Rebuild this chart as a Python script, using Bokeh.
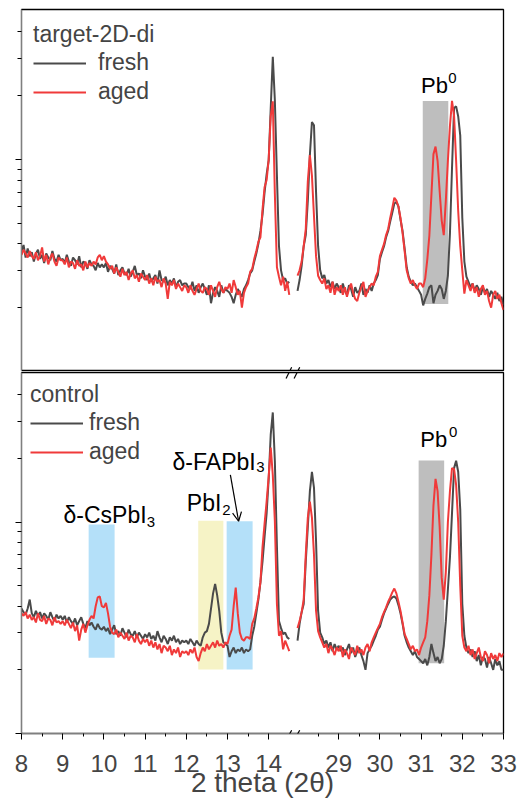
import numpy as np
from bokeh.plotting import figure
from bokeh.layouts import column
from bokeh.models import (Range1d, FixedTicker, CustomJSTickFormatter, Legend, LegendItem,
                          Label, Arrow, OpenHead)
from bokeh.embed import file_html
from bokeh.resources import INLINE

# ---------------- data ----------------
# 2theta sampling of the two measured windows (left: 8-14.5, right: 28-33)
THETA_LO = np.round(np.linspace(8.0, 14.5, 131), 2)
THETA_HI = np.round(np.linspace(28.0, 33.0, 101), 2)

TOP_FRESH_LO = [3700, 3950, 3450, 3800, 3500, 3650, 3300, 3600, 3750, 3400, 3550, 3250, 3600, 3450, 3350, 3700, 3400, 3300, 3550, 3350,
                3400, 3250, 3550, 3300, 3150, 3450, 3350, 3200, 3500, 3100, 3300, 3250, 3050, 3350, 3200, 3150, 3000, 3250, 3100, 3200,
                3100, 3250, 2950, 3150, 3050, 2900, 3200, 2850, 3000, 3100, 2900, 2850, 3050, 2800, 2950, 3150, 2850, 2900, 2750, 3000,
                2800, 2700, 2900, 2650, 2750, 2850, 2600, 3000, 2700, 2650, 2800, 2550, 2700, 2600, 2750, 2500, 2650, 2700, 2550, 2600,
                2600, 2500, 2450, 2650, 2400, 2550, 2350, 2500, 2600, 2450, 2300, 2550, 2100, 2350, 2500, 2400, 2250, 2550, 2350, 2450,
                2400, 2350, 2250, 2100, 2300, 2450, 2350, 2250, 2450, 2550,
                2700, 2900, 3000, 3300, 3600, 4000, 4600, 5500, 7000, 8500,
                9900, 17500, 30500, 19000, 8400, 3900, 3000, 2700, 2750, 2600, 2650]
TOP_AGED_LO = [3550, 3750, 3600, 3450, 3700, 3500, 3400, 3650, 3350, 3500, 3850, 3300, 3550, 3200, 3450, 3600, 3300, 3150, 3450, 3350,
               3350, 3200, 3450, 3100, 3300, 3250, 3050, 3350, 3150, 3200, 3000, 3300, 3100, 3250, 3150, 3300, 3200, 3450, 3550, 3350,
               3500, 3300, 3200, 3050, 3150, 2900, 3100, 2950, 2800, 3050, 2850, 2950, 2700, 2900, 3000, 2750, 2850, 2650, 2900, 2800,
               2700, 2850, 2600, 2750, 2550, 2800, 2650, 2700, 2500, 2750, 2600, 2200, 2650, 2550, 2700, 2450, 2600, 2500, 2400, 2550,
               2500, 2350, 2550, 2400, 2300, 2450, 2600, 2400, 2350, 2500, 2450, 2300, 2550, 2400, 2250, 2500, 2650, 2450, 2350, 2500,
               2450, 2600, 2350, 2700, 2500, 2300, 2400, 2000, 2350, 2500,
               2600, 2950, 3050, 3400, 3700, 4100, 4300, 5800, 7400, 8000,
               10000, 16000, 18800, 6900, 3100, 2800, 2550, 2800, 2400, 2650, 2300]
TOP_FRESH_HI = [2400, 2700, 3150, 3900, 4400, 6400, 10500, 15000, 14500, 7000, 3900,
                3000, 2750, 2850, 2600, 2700, 2500, 2650, 2450, 2600,
                2500, 2350, 2600, 2400, 2300, 2550, 2450, 2250, 2500, 2350, 2400, 2600, 2300, 2450, 2350, 2550, 2400, 2600, 2700, 2850,
                3400, 3650, 3900, 4300, 4600, 5100, 5600, 6200, 6300, 6000, 5200, 4600, 3800, 3100, 2800, 2650, 2550, 2600, 2500, 2400,
                2300, 2050, 2200, 2330, 2500, 2550, 2100, 2300, 2400, 2550, 2450, 2200, 2400, 2830, 4480, 9100, 17500, 17800, 16000, 13000,
                5300, 3300, 2800, 2650, 2500, 2600, 2400, 2550, 2450, 2300, 2500, 2350, 2450, 2250, 2400, 2300, 2200, 2350, 2150, 2250,
                2050]
TOP_AGED_HI = [2830, 3000, 3300, 3900, 4700, 7900, 10500, 8400, 5400, 3500, 2830,
               2700, 2600, 2750, 2450, 2550, 2350, 2650, 2300, 2500,
               2400, 2550, 2300, 2500, 2250, 2450, 2600, 2350, 2200, 2150, 2350, 2500, 2650, 2250, 2400, 2500, 2600, 2550, 2800, 2950,
               3500, 3750, 4000, 4400, 4700, 5300, 5900, 6600, 6400, 6000, 5300, 4500, 3700, 3000, 2750, 2600, 2700, 2550, 2450, 2600,
               2600, 2500, 2750, 3370, 4370, 6800, 10600, 11500, 9860, 7100, 5150, 4400, 6400, 9860, 14400, 18900, 16100, 9860, 5730, 3900,
               3000, 2330, 2700, 2550, 2400, 2600, 2350, 2500, 2250, 2450, 2550, 2300, 2400, 2150, 2000, 2300, 2400, 2200, 2300, 2100,
               1950]

BOT_FRESH_LO = [3900, 3750, 3650, 3900, 4300, 3700, 3550, 3800, 3600, 3750, 3500, 3700, 3600, 3450, 3750, 3550, 3400, 3650, 3500, 3600,
                3450, 3600, 3350, 3550, 3400, 3300, 3500, 3250, 3400, 3550, 3300, 3150, 3400, 3250, 3350, 3200, 3100, 3300, 3150, 3100,
                3200, 3050, 3150, 2950, 3100, 3250, 2950, 3050, 2900, 3150, 3000, 2850, 3100, 2950, 2900, 3050, 2850, 3000, 2900, 2800,
                2950, 2850, 3000, 2800, 2900, 2750, 3050, 2850, 2700, 2900, 2800, 2650, 2850, 2750, 2900, 2700, 2800, 2650, 2750, 2700,
                2750, 2650, 2800, 2700, 2600, 2750, 2650, 2600, 2850, 3000, 3050, 3300, 3900, 4600, 5100, 4500, 3800, 3000, 2700, 2650,
                2600, 2300, 2450, 2550, 2400, 2500, 2450, 2550, 2400, 2500,
                2450, 2500, 2900, 3200, 3700, 4300, 5200, 6500, 8500, 11000,
                16000, 26000, 33000, 19400, 7700, 3400, 3150, 2950, 3000, 2850, 2800]
BOT_AGED_LO = [3700, 3600, 3750, 3500, 3650, 3450, 3550, 3350, 3700, 3450, 3400, 3600, 3300, 3500, 3450, 3250, 3550, 3350, 3400, 3300,
               3400, 3250, 3450, 3300, 3150, 3350, 3050, 3250, 2750, 3100, 3300, 3000, 3250, 3450, 3600, 3500, 4000, 4400, 4450, 4000,
               3950, 4150, 3700, 3200, 3000, 2950, 3100, 2850, 3000, 2900, 2800, 3000, 2750, 2900, 2850, 2700, 2950, 2750, 2650, 2800,
               2700, 2800, 2600, 2750, 2550, 2700, 2500, 2650, 2400, 2600, 2550, 2450, 2600, 2350, 2500, 2400, 2550, 2300, 2450, 2400,
               2450, 2350, 2500, 2400, 2550, 2300, 2200, 2400, 2550, 2450, 2650, 2500, 2600, 2700, 2550, 2750, 2600, 2650, 2550, 2700,
               2650, 2900, 3100, 4000, 4900, 3700, 3000, 2800, 2750, 2850,
               2850, 2800, 3300, 3500, 3900, 4400, 5200, 7600, 9800, 12500,
               16400, 22500, 16700, 10100, 4100, 2900, 3050, 2500, 2750, 2600, 2450]
BOT_FRESH_HI = [2750, 3300, 3750, 4100, 6500, 9500, 14000, 17300, 14500, 8100, 3800,
                3000, 2850, 2650, 2750, 2550, 2700, 2450, 2650, 2500,
                2600, 2450, 2550, 2350, 2500, 2650, 2400, 2550, 2300, 2450, 2550, 2350, 2200, 2000, 2400, 2500, 2600, 2750, 2900, 3100,
                3200, 3450, 3700, 3900, 4100, 4300, 4400, 4450, 4350, 4050, 3700, 3300, 2900, 2700, 2550, 2450, 2350, 2450, 2300, 2250,
                2200, 2150, 2250, 2100, 2300, 2650, 2400, 2200, 2300, 2150, 2250, 2600, 3400, 4800, 6800, 11000, 18000, 19500, 17300, 11500,
                4100, 2900, 2550, 2400, 2500, 2300, 2450, 2200, 2350, 2100, 2300, 2250, 2050, 2300, 2150, 2000, 2250, 2100, 2200, 2000,
                2000]
BOT_AGED_HI = [3150, 3400, 3750, 4300, 7000, 10500, 12500, 10500, 7000, 3800, 3050,
               2850, 2700, 2550, 2650, 2400, 2600, 2500, 2350, 2550,
               2450, 2600, 2300, 2500, 2400, 2250, 2550, 2450, 2350, 2600, 2400, 2500, 2350, 2550, 2650, 2450, 2700, 2850, 3000, 3150,
               3300, 3550, 3750, 3950, 4200, 4400, 4650, 4850, 4600, 4200, 3800, 3350, 2950, 2800, 2650, 2500, 2600, 2450, 2500, 2350,
               2550, 2700, 2850, 3400, 4500, 7000, 12000, 16000, 14000, 9500, 5460, 4300, 5800, 10000, 14000, 18000, 17800, 15000, 10000, 5000,
               2900, 2550, 2450, 2600, 2350, 2500, 2250, 2400, 2550, 2300, 2200, 2450, 2350, 2150, 2400, 2250, 2350, 2200, 2400, 2300,
               2390]

SERIES_NAMES = ["fresh", "aged"]
PANEL_TITLES = ["target-2D-di", "control"]

X_TICKS_LO = [8, 9, 10, 11, 12, 13, 14]
X_TICKS_HI = [29, 30, 31, 32, 33]
X_MINOR_LO = [8.5, 9.5, 10.5, 11.5, 12.5, 13.5]
X_MINOR_HI = [28.5, 29.5, 30.5, 31.5, 32.5]
Y_MAJOR = [1000, 10000]
Y_MINOR = [2000, 3000, 4000, 5000, 6000, 7000, 8000, 9000, 20000, 30000, 40000]

# shaded phase regions: (2theta start, 2theta end, intensity bottom, intensity top)
PB0_TOP = (31.04, 31.66, 2084, 18900)
PB0_BOT = (30.94, 31.56, 2150, 19540)
CSPBI3_BOX = (9.63, 10.26, 2280, 9730)
PBI2_BOX = (12.29, 12.90, 2007, 10160)
FAPBI3_BOX = (12.98, 13.61, 2007, 10090)

# ---------------- style ----------------
FONT = "Liberation Sans"
C_FRESH = "#4a4a4a"
C_AGED = "#f03a3a"
C_GRAY = "#bebebe"
C_YELLOW = "#f6f3c6"
C_BLUE = "#b4e0f9"
Y_RANGE = (1000, 51000)
X_RANGE = (8.0, 19.7)
SHIFT = 13.3            # right window is drawn shifted so that 28 sits right after the break
BREAK_U = [14.49, 14.685]
DECADE_PX = 212.0
LW = 2.0


def make_panel(frame_h, with_xaxis, top_border, bottom_border):
    p = figure(frame_width=482, frame_height=frame_h,
               x_range=Range1d(*X_RANGE), y_range=Range1d(*Y_RANGE),
               y_axis_type="log", x_axis_location="below" if with_xaxis else None,
               output_backend="svg", toolbar_location=None,
               min_border_left=21, min_border_right=17,
               min_border_top=top_border, min_border_bottom=bottom_border,
               background_fill_color="white", border_fill_color="white")
    p.extra_x_ranges = {"hi": Range1d(X_RANGE[0] + SHIFT, X_RANGE[1] + SHIFT)}
    p.xgrid.visible = False
    p.ygrid.visible = False
    p.outline_line_color = "black"
    p.outline_line_width = 1.3
    yax = p.yaxis[0]
    yax.ticker = FixedTicker(ticks=Y_MAJOR, minor_ticks=Y_MINOR)
    yax.formatter = CustomJSTickFormatter(code="return ''")
    yax.major_tick_out = 6
    yax.major_tick_in = 0
    yax.minor_tick_out = 4
    yax.minor_tick_in = 0
    yax.major_label_standoff = 0
    yax.axis_line_color = "#7f7f7f"
    yax.major_tick_line_color = "black"
    yax.minor_tick_line_color = "black"
    return p


def add_curves(p, fresh_lo, aged_lo, fresh_hi, aged_hi):
    rf = p.line(THETA_LO, fresh_lo, line_color=C_FRESH, line_width=LW)
    p.line(THETA_HI, fresh_hi, line_color=C_FRESH, line_width=LW, x_range_name="hi")
    ra = p.line(THETA_LO, aged_lo, line_color=C_AGED, line_width=LW)
    p.line(THETA_HI, aged_hi, line_color=C_AGED, line_width=LW, x_range_name="hi")
    return rf, ra


def add_box(p, box, color, rng="default"):
    x0, x1, y0, y1 = box
    p.quad(left=[x0], right=[x1], bottom=[y0], top=[y1], fill_color=color,
           line_color=None, x_range_name=rng)


def add_legend(p, title, rf, ra, margin, standoff):
    leg = Legend(items=[LegendItem(label=SERIES_NAMES[0], renderers=[rf]),
                        LegendItem(label=SERIES_NAMES[1], renderers=[ra])],
                 title=title, location="top_left", margin=margin, padding=0,
                 border_line_color=None, background_fill_alpha=0,
                 title_text_font=FONT, title_text_font_size="23px", title_text_font_style="normal",
                 title_standoff=1, label_text_font=FONT, label_text_font_size="23px",
                 glyph_width=53, glyph_height=20, label_height=20, label_standoff=standoff,
                 spacing=2)
    p.add_layout(leg)


LABEL_LIFT = 1.075   # small vertical correction of label anchors


def text(p, x, y, s, size, rng="default"):
    p.add_layout(Label(x=x, y=y * LABEL_LIFT, text=s, x_range_name=rng, text_font=FONT,
                       text_font_size=size, text_align="left", text_baseline="alphabetic",
                       text_color="black"))


def slashes(p, y_mid, up_px, down_px):
    for u in BREAK_U:
        p.add_layout(Arrow(start=None, end=None, x_start=u - 0.068, x_end=u + 0.068,
                           y_start=y_mid * 10 ** (-down_px / DECADE_PX),
                           y_end=y_mid * 10 ** (up_px / DECADE_PX),
                           line_color="black", line_width=1.2))


# ---------------- top panel ----------------
top = make_panel(362, False, 9, 0)
add_box(top, PB0_TOP, C_GRAY, "hi")
rf, ra = add_curves(top, TOP_FRESH_LO, TOP_AGED_LO, TOP_FRESH_HI, TOP_AGED_HI)
add_legend(top, PANEL_TITLES[0], rf, ra, 12, 12)
text(top, 31.0, 20680, "Pb", "22px", "hi")
text(top, 31.66, 22660, "0", "15px", "hi")
slashes(top, Y_RANGE[0], 4.3, 7)

# ---------------- bottom panel ----------------
bot = make_panel(361, True, 1, 0)
add_box(bot, PB0_BOT, C_GRAY, "hi")
add_box(bot, CSPBI3_BOX, C_BLUE)
add_box(bot, PBI2_BOX, C_YELLOW)
add_box(bot, FAPBI3_BOX, C_BLUE)
rf2, ra2 = add_curves(bot, BOT_FRESH_LO, BOT_AGED_LO, BOT_FRESH_HI, BOT_AGED_HI)
add_legend(bot, PANEL_TITLES[1], rf2, ra2, 9, 6)
text(bot, 30.98, 22980, "Pb", "22px", "hi")
text(bot, 31.68, 24880, "0", "15px", "hi")
text(bot, 9.02, 10010, "δ-CsPbI", "23px")
text(bot, 11.04, 9350, "3", "15px")
text(bot, 12.014, 11450, "PbI", "23px")
text(bot, 12.87, 10650, "2", "15px")
text(bot, 11.667, 17970, "δ-FAPbI", "23px")
text(bot, 13.70, 17020, "3", "15px")
bot.add_layout(Arrow(end=OpenHead(size=9, line_width=1.2, line_color="black"),
                     x_start=13.07, y_start=16730, x_end=13.27, y_end=10090,
                     line_color="black", line_width=1.2))
slashes(bot, Y_RANGE[1], 5.3, 6)
slashes(bot, Y_RANGE[0], 3.3, 6.7)

xax = bot.xaxis[0]
major_u = X_TICKS_LO + [t - SHIFT for t in X_TICKS_HI]
minor_u = X_MINOR_LO + [t - SHIFT for t in X_MINOR_HI]
xax.ticker = FixedTicker(ticks=major_u, minor_ticks=minor_u)
xax.major_label_overrides = {u: str(t) for u, t in zip(major_u, X_TICKS_LO + X_TICKS_HI)}
xax.major_label_text_font = FONT
xax.major_label_text_font_size = "24px"
xax.major_label_standoff = 15
xax.axis_label = "2 theta (2θ)"
xax.axis_label_text_font = FONT
xax.axis_label_text_font_size = "28px"
xax.axis_label_text_font_style = "normal"
xax.axis_label_standoff = -8
xax.major_tick_out = 6
xax.major_tick_in = 0
xax.minor_tick_out = 3
xax.minor_tick_in = 0
xax.axis_line_color = "#7f7f7f"
xax.major_tick_line_color = "black"
xax.minor_tick_line_color = "black"

layout = column(top, bot, spacing=0)
open("out.html", "w").write(file_html(layout, INLINE))
